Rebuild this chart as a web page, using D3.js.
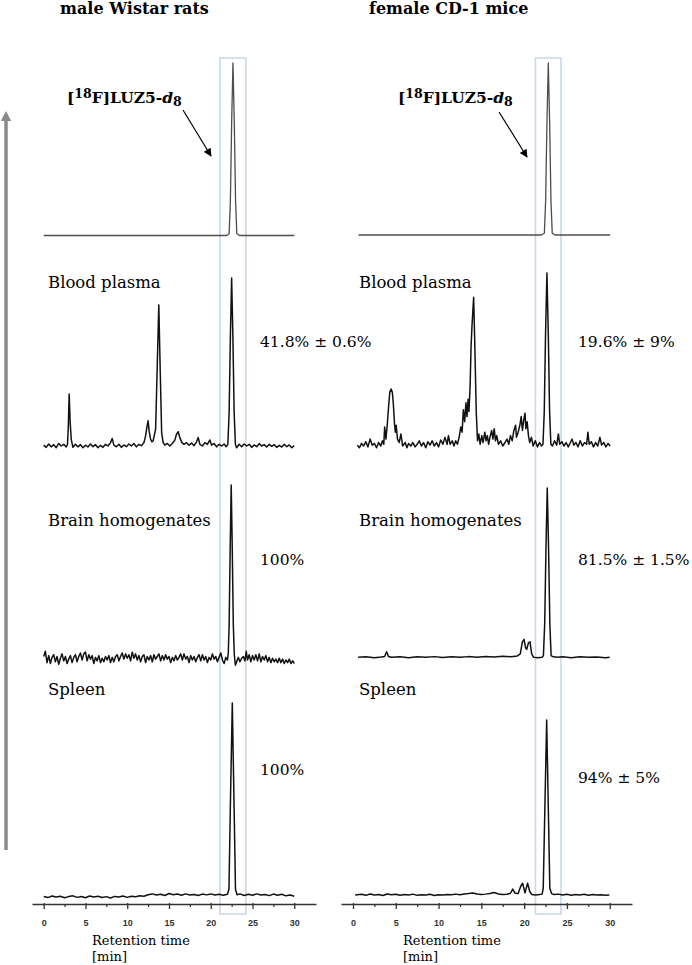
<!DOCTYPE html>
<html><head><meta charset="utf-8">
<script src="https://cdn.jsdelivr.net/npm/d3@7"></script>
<style>html,body{margin:0;padding:0;background:#fff}svg{display:block}</style>
</head><body><svg id="c" width="692" height="965"></svg>
<script>
// ---------- DATA ----------
const ticks = [0,5,10,15,20,25,30];
const minorTicks = [2.5,7.5,12.5,17.5,22.5,27.5];
const xDomain = [-1.4, 32.6];
const panelTitles = ["male Wistar rats","female CD-1 mice"];
const sampleNames = ["Blood plasma","Brain homogenates","Spleen"];
const fractionsRats = ["41.8% ± 0.6%","100%","100%"];
const fractionsMice = ["19.6% ± 9%","81.5% ± 1.5%","94% ± 5%"];
const windowRats = [21.1, 24.2];
const windowMice = [21.32, 24.3];

// intensity normalised to main peak = 100; [time (min), intensity]
const refRats = [[0,0],[21.9,0],[22.2,1],[22.35,20],[22.5,65],[22.66,100],[22.82,65],[22.97,20],[23.12,1],[23.45,0],[30,0]];
const refMice = [[0.65,0],[22.0,0],[22.36,1],[22.51,20],[22.66,65],[22.82,100],[22.98,65],[23.13,20],[23.28,1],[23.6,0],[30.05,0]];

const plasmaRats = [[0,0.5],[0.3,-0.8],[0.6,1.2],[0.9,-0.5],[1.2,0.8],[1.5,-1],[1.8,1.5],[2.1,0],[2.4,1],[2.7,-0.6],[2.85,1],[2.95,12],[3.05,31],[3.17,14],[3.3,4],[3.5,-0.8],[3.8,1],[4.1,-0.5],[4.4,0.8],[4.7,-1],[5.0,0.5],[5.3,-0.6],[5.6,1.2],[5.9,-0.4],[6.2,0.8],[6.5,-1],[6.8,0.4],[7.1,-0.8],[7.4,1],[7.7,0],[8.0,2],[8.2,4.5],[8.4,0.5],[8.7,-0.5],[9.0,1],[9.3,-0.8],[9.6,0.6],[9.9,-0.4],[10.2,1.2],[10.5,0],[10.8,1.5],[11.1,-0.5],[11.4,1],[11.7,0.2],[12.0,2],[12.2,6],[12.38,12],[12.5,15],[12.62,9],[12.8,4],[12.95,2.5],[13.1,3],[13.4,10],[13.58,45],[13.78,84],[13.95,45],[14.12,8],[14.3,2],[14.5,0.5],[14.8,1.5],[15.1,0],[15.4,1.5],[15.7,3.5],[15.9,7],[16.1,8.5],[16.3,5],[16.55,2],[16.8,1],[17.1,2],[17.4,0.4],[17.7,1.8],[18.0,0.2],[18.3,2.5],[18.5,5],[18.7,1],[19.0,0],[19.3,2],[19.6,1],[19.9,3.6],[20.1,0.5],[20.4,1.5],[20.7,-0.5],[21.0,1],[21.3,0],[21.6,1.2],[21.85,-0.4],[22.05,1],[22.2,20],[22.35,65],[22.5,100],[22.65,65],[22.8,20],[22.95,1],[23.1,-1],[23.4,1],[23.7,-0.5],[24.0,1.2],[24.3,0],[24.6,1],[24.9,-0.8],[25.2,0.6],[25.5,-0.4],[25.8,1.4],[26.1,0],[26.4,0.8],[26.7,-0.6],[27.0,1],[27.3,-0.2],[27.6,0.8],[27.9,-0.8],[28.2,0.4],[28.5,-0.6],[28.8,1],[29.1,-0.4],[29.4,0.6],[29.7,-1],[30.0,0.2]];

const brainRats = [[0,2],[0.2,5],[0.4,-1.5],[0.6,2.5],[0.8,-2],[1,1.5],[1.2,3],[1.4,-1],[1.6,2],[1.8,-2.5],[2,1],[2.2,3.5],[2.4,-0.5],[2.6,2],[2.8,-2],[3,0.5],[3.2,2.5],[3.4,-1.5],[3.6,1.5],[3.8,3],[4,-1],[4.2,2],[4.4,4],[4.6,0],[4.8,3.5],[5,4.5],[5.2,-0.5],[5.4,3],[5.6,0.5],[5.8,2.5],[6,-2],[6.2,1.5],[6.4,-0.5],[6.6,2.5],[6.8,-1.5],[7,1],[7.2,-1],[7.4,2],[7.6,0],[7.8,2.5],[8,-1.5],[8.2,1.5],[8.4,-1],[8.6,2],[8.8,3],[9,-0.5],[9.2,2],[9.4,4],[9.6,0.5],[9.8,3.5],[10,1],[10.2,3],[10.4,-0.5],[10.6,4.5],[10.8,1],[11,3.5],[11.2,0],[11.4,2.5],[11.6,-1],[11.8,2],[12,3],[12.2,-1.5],[12.4,2],[12.6,0],[12.8,2.5],[13,-1],[13.2,3],[13.4,0.5],[13.6,2],[13.8,3.5],[14,-0.5],[14.2,2.5],[14.4,0],[14.6,3],[14.8,0.5],[15,2],[15.2,-1.5],[15.4,1.5],[15.6,-0.5],[15.8,2.5],[16,0],[16.2,1.5],[16.4,3.5],[16.6,0],[16.8,3.5],[17,0.5],[17.2,2],[17.4,-1.5],[17.6,2.5],[17.8,0],[18,2],[18.2,-1],[18.4,1.5],[18.6,3],[18.8,-0.5],[19,3],[19.2,0],[19.4,2],[19.6,-1.5],[19.8,1.5],[20,0],[20.2,3.5],[20.4,0.5],[20.6,2],[20.8,-1],[21,1.5],[21.2,4],[21.4,0],[21.6,-2],[21.8,1.5],[22,0],[22.1,4],[22.2,20],[22.33,65],[22.45,100],[22.57,65],[22.7,20],[22.82,3],[22.95,-3],[23.1,-1],[23.3,1.5],[23.5,-1],[23.7,1],[23.9,2],[24.1,-0.5],[24.25,5],[24.4,0],[24.6,3],[24.8,-1],[25,2.5],[25.2,0],[25.4,3],[25.6,-0.5],[25.8,3.5],[26,-1],[26.2,2],[26.4,0],[26.6,2.5],[26.8,-1],[27,1.5],[27.2,-1.5],[27.4,1],[27.6,-1],[27.8,0.5],[28,-1.5],[28.2,1],[28.4,-1.5],[28.6,0.5],[28.8,-2],[29,0],[29.2,-1.5],[29.4,0.5],[29.6,-2],[29.8,-0.5],[30,-2]];

const spleenRats = [[0,0.3],[0.5,-0.3],[1,0.5],[1.5,0],[2,0.4],[2.5,-0.4],[3,0.2],[3.5,0.6],[4,-0.2],[4.5,0.3],[5,-0.4],[5.5,0.5],[6,0],[6.5,0.4],[7,-0.3],[7.5,0.2],[8,-0.5],[8.5,0.3],[9,0],[9.5,0.5],[10,-0.2],[10.5,0.4],[11,0.1],[11.5,0.6],[12,0.4],[12.5,1.2],[13,1.6],[13.5,1.0],[14,1.4],[14.5,0.8],[15,1.8],[15.5,1.2],[16,1.5],[16.5,0.9],[17,1.6],[17.5,1.0],[18,1.3],[18.5,0.8],[19,1.5],[19.5,1.1],[20,1.6],[20.5,1.0],[21,1.4],[21.5,0.9],[22.0,1.4],[22.18,4],[22.34,45],[22.58,100],[22.8,45],[22.96,4],[23.15,1.2],[23.5,1.6],[24,0.8],[24.5,1.4],[25,0.9],[25.5,1.6],[26,1.0],[26.5,1.3],[27,0.7],[27.5,1.5],[28,0.9],[28.5,1.4],[29,0.6],[29.5,1.0],[30,0.4]];

const plasmaMice = [[0.5,0.5],[0.75,-1],[1.0,1.5],[1.25,0],[1.5,2.5],[1.75,-0.5],[2.0,4],[2.25,0.5],[2.5,1.5],[2.75,-1],[3.0,2],[3.25,0],[3.45,3],[3.6,1],[3.7,11],[3.85,4],[4.0,12],[4.15,22],[4.3,31],[4.45,33],[4.6,31],[4.72,24],[4.85,13],[4.95,8],[5.05,12],[5.2,4],[5.4,2],[5.6,7],[5.8,0],[6.1,2],[6.3,-1],[6.5,1.5],[6.75,0],[7.0,2],[7.25,-0.5],[7.5,1],[7.75,3],[8.0,0],[8.25,2],[8.5,-1],[8.75,2.5],[9.0,0.5],[9.25,3],[9.5,0],[9.75,2],[10.0,-0.5],[10.25,3.5],[10.5,1],[10.75,5],[11.0,1],[11.15,6],[11.35,1],[11.6,3],[11.8,0],[12.0,3],[12.2,1],[12.4,5],[12.6,11],[12.75,8],[12.9,21],[13.05,14],[13.2,25],[13.32,17],[13.45,27],[13.55,20],[13.68,34],[13.8,58],[13.9,69],[14.1,86],[14.25,55],[14.4,20],[14.55,3],[14.7,7],[14.85,1],[15.05,6],[15.2,2],[15.4,8],[15.55,3],[15.7,6],[15.85,1],[16.0,5],[16.2,9],[16.35,4],[16.5,10],[16.65,3],[16.8,6],[17.0,1],[17.25,3],[17.5,0],[17.75,2],[18.0,4],[18.2,1],[18.4,6],[18.6,3],[18.8,9],[19.0,12],[19.1,5],[19.3,8],[19.5,12],[19.65,17],[19.8,9],[19.95,15],[20.1,19],[20.2,10],[20.35,14],[20.5,6],[20.65,2],[20.85,5],[21.05,0],[21.3,3],[21.55,-0.5],[21.8,2],[22.0,0],[22.2,1],[22.35,20],[22.5,65],[22.66,100],[22.82,65],[22.97,20],[23.12,1],[23.3,0],[23.55,3],[23.8,0.5],[24.0,7],[24.15,1],[24.4,2.5],[24.65,0],[24.9,2],[25.15,-0.5],[25.4,2],[25.6,4],[25.8,0.5],[26.05,2],[26.3,-0.5],[26.55,3],[26.8,0],[27.05,2],[27.3,1],[27.45,8],[27.6,1],[27.85,2.5],[28.1,-0.5],[28.35,2],[28.6,0],[28.85,5],[29.05,0.5],[29.3,2],[29.55,-0.5],[29.8,1.5],[30.05,0]];

const brainMice = [[0.6,0],[1.5,0.3],[2.5,-0.2],[3.3,0.2],[3.7,0.5],[3.93,3.3],[4.15,0.5],[4.5,0],[5.5,0.3],[6.5,-0.2],[7.5,0.3],[8.5,0],[9.5,0.4],[10.5,-0.1],[11.5,0.3],[12.5,0],[13.5,0.4],[14.5,0.1],[15.5,0.5],[16.5,0.2],[17.5,0.6],[18.5,0.3],[19.2,0.8],[19.55,2],[19.78,9],[19.98,10.6],[20.18,5.5],[20.3,4.7],[20.5,8.5],[20.68,9.2],[20.88,2],[21.1,0],[21.6,-0.3],[22.1,0],[22.25,1],[22.4,20],[22.55,65],[22.7,100],[22.85,65],[23.0,20],[23.15,1],[23.4,0.3],[23.9,0],[24.5,0.3],[25.5,-0.2],[26.5,0.3],[27.5,0],[28.5,0.2],[29.5,-0.2],[30.0,0]];

const spleenMice = [[0.25,0],[1,0.4],[1.5,-0.2],[2,0.6],[2.5,0],[3,0.3],[3.5,-0.3],[4,0.6],[4.5,0.1],[5,0.4],[5.5,-0.2],[6,0.3],[6.5,0],[7,0.5],[7.5,-0.2],[8,0.2],[8.5,0],[9,0.4],[9.5,-0.3],[10,0.2],[10.5,0],[11,0.3],[11.5,0.1],[12,0.5],[12.5,0.2],[13,0.6],[13.5,0.8],[14,1.2],[14.5,0.6],[15,0.3],[15.5,0.5],[16,0.9],[16.5,1.4],[17,0.6],[17.5,0.3],[18,0.4],[18.4,1],[18.66,3.4],[18.95,1],[19.3,0.8],[19.6,5],[19.82,6.7],[20.1,1.2],[20.4,6.7],[20.65,2],[20.9,0.3],[21.3,0],[21.8,0.3],[22.1,0.5],[22.23,4],[22.4,45],[22.63,100],[22.84,45],[23.0,4],[23.2,0.8],[23.5,0.3],[24,0.5],[24.5,0],[25,0.4],[25.5,-0.2],[26,0.3],[26.5,0],[27,0.4],[27.5,-0.1],[28,0.3],[28.5,0],[29,0.2],[29.5,-0.2],[29.95,0]];

// ---------- LAYOUT ----------
const panels = [
  {x0:32, x1:316, traces:[refRats, plasmaRats, brainRats, spleenRats], win:windowRats, fr:fractionsRats,
   rows:[{b:235.5,h:172.5},{b:446,h:168},{b:660,h:175},{b:897,h:194}],
   titleX:60, labelX:48, fracX:260, fracY:[347,565,775], retX:92, cmpX:67, arrow:[183,110,211,156]},
  {x0:341, x1:632, traces:[refMice, plasmaMice, brainMice, spleenMice], win:windowMice, fr:fractionsMice,
   rows:[{b:235,h:172},{b:446,h:173},{b:657.3,h:169.3},{b:895,h:175}],
   titleX:369, labelX:359, fracX:578, fracY:[347,565,783], retX:403, cmpX:398, arrow:[499,112,527,157]}
];
const labelY = [288, 526, 695];
const serif = "'DejaVu Serif', serif";

const svg = d3.select("#c");
svg.append("rect").attr("width",692).attr("height",965).attr("fill","#fff");
const defs = svg.append("defs");
defs.append("marker").attr("id","ah").attr("viewBox","0 0 10 10").attr("refX",9).attr("refY",5)
  .attr("markerWidth",10).attr("markerHeight",8).attr("markerUnits","userSpaceOnUse").attr("orient","auto")
  .append("path").attr("d","M0,0 L10,5 L0,10 z").attr("fill","#000");

// vertical intensity arrow
svg.append("line").attr("x1",6).attr("x2",6).attr("y1",850).attr("y2",119)
  .attr("stroke","#8a8a8a").attr("stroke-width",3.5);
svg.append("path").attr("d","M0.8,121 L6,111 L11.2,121 Z").attr("fill","#8a8a8a");

panels.forEach((p,pi)=>{
  const x = d3.scaleLinear().domain(xDomain).range([p.x0,p.x1]);
  const g = svg.append("g");
  g.append("rect").attr("x",x(p.win[0])).attr("y",58)
    .attr("width",x(p.win[1])-x(p.win[0])).attr("height",914-58)
    .attr("fill","none").attr("stroke","#c9d9e9").attr("stroke-width",1.6);

  p.traces.forEach((tr,ti)=>{
    const r = p.rows[ti];
    const y = d3.scaleLinear().domain([0,100]).range([r.b, r.b-r.h]);
    const line = d3.line().x(d=>x(d[0])).y(d=>y(d[1]));
    g.append("path").datum(tr).attr("d",line).attr("fill","none")
      .attr("stroke", ti===0 ? "#4d4d4d" : "#111").attr("stroke-width", ti===0?1.3:1.5)
      .attr("stroke-linejoin","round");
  });

  const ax = g.append("g").attr("transform","translate(0,904)")
    .call(d3.axisBottom(x).tickValues(ticks).tickSize(5).tickSizeOuter(0).tickPadding(11));
  ax.select(".domain").attr("stroke","#333").attr("stroke-width",1.6);
  ax.selectAll(".tick line").attr("stroke","#333").attr("stroke-width",1.3).attr("y1",-1);
  ax.selectAll(".tick text").attr("font-family","'Liberation Sans', Arial, sans-serif")
    .attr("font-weight","bold").attr("font-size",9).attr("fill","#333");
  const mx = g.append("g").attr("transform","translate(0,904)")
    .call(d3.axisBottom(x).tickValues(minorTicks).tickSize(3).tickFormat(""));
  mx.select(".domain").remove();
  mx.selectAll(".tick line").attr("stroke","#333").attr("stroke-width",1.2);

  // titles
  g.append("text").attr("x",p.titleX).attr("y",14).attr("font-family",serif).attr("font-weight","bold")
    .attr("font-size",16).attr("fill","#000").text(panelTitles[pi]);

  // compound label
  const t = g.append("text").attr("x",p.cmpX).attr("y",103).attr("font-family",serif)
    .attr("font-weight","bold").attr("font-size",15.5).attr("fill","#000");
  t.append("tspan").text("[");
  t.append("tspan").attr("dy",-5).attr("font-size",12.5).text("18");
  t.append("tspan").attr("dy",5).text("F]LUZ5-");
  t.append("tspan").attr("font-style","italic").text("d");
  t.append("tspan").attr("dy",3).attr("font-size",12.5).text("8");
  g.append("line").attr("x1",p.arrow[0]).attr("y1",p.arrow[1]).attr("x2",p.arrow[2]).attr("y2",p.arrow[3])
    .attr("stroke","#000").attr("stroke-width",1.2).attr("marker-end","url(#ah)");

  sampleNames.forEach((s,si)=>{
    g.append("text").attr("x",p.labelX).attr("y",labelY[si]).attr("font-family",serif)
      .attr("font-size",16.5).attr("fill","#000").text(s);
    g.append("text").attr("x",p.fracX).attr("y",p.fracY[si]).attr("font-family",serif)
      .attr("font-size",15.5).attr("fill","#000").text(p.fr[si]);
  });

  g.append("text").attr("x",p.retX).attr("y",945).attr("font-family",serif)
    .attr("font-size",13).attr("fill","#000").text("Retention time");
  g.append("text").attr("x",p.retX).attr("y",961).attr("font-family",serif)
    .attr("font-size",13).attr("fill","#000").text("[min]");
});
</script></body></html>
